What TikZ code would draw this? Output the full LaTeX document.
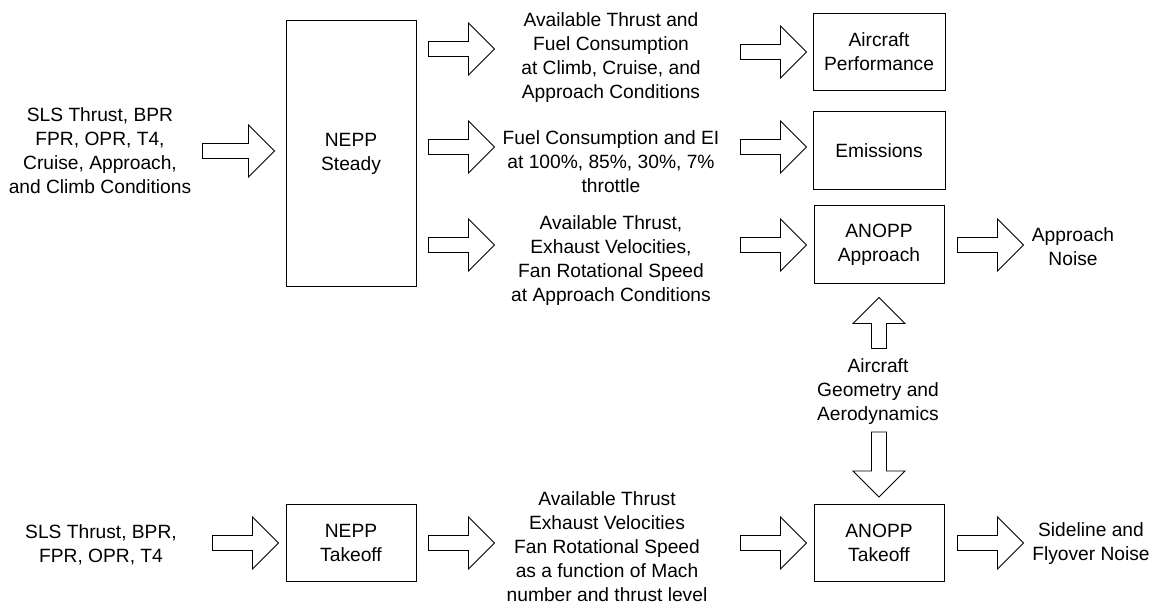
\documentclass[tikz,border=0pt]{standalone}
\usepackage{fontspec}
\setmainfont{Liberation Sans}
\usetikzlibrary{calc}

\tikzset{
  blk/.style={draw, line width=1pt, align=center, minimum width=130pt, minimum height=77pt, inner sep=2pt},
  txt/.style={align=center, inner sep=0pt},
  fat/.style={draw, line width=0.9pt, to path={
    let \p1=(\tikztostart), \p2=(\tikztotarget),
        \n1={atan2(\y2-\y1,\x2-\x1)}, \n2={veclen(\x2-\x1,\y2-\y1)} in
    ([shift={(\p1)},rotate=\n1]0,7.5) -- ([shift={(\p1)},rotate=\n1]{\n2-26},7.5)
    -- ([shift={(\p1)},rotate=\n1]{\n2-26},26) -- ([shift={(\p1)},rotate=\n1]\n2,0)
    -- ([shift={(\p1)},rotate=\n1]{\n2-26},-26) -- ([shift={(\p1)},rotate=\n1]{\n2-26},-7.5)
    -- ([shift={(\p1)},rotate=\n1]0,-7.5) -- cycle}}
}

\begin{document}
\begin{tikzpicture}[x=1pt, y=1pt, font=\fontsize{19.2}{24}\selectfont]
\useasboundingbox (0,0) rectangle (1163,-609);

\node[txt] (in1) at (100,-151) {SLS Thrust, BPR\\FPR, OPR, T4,\\Cruise, Approach,\\and Climb Conditions};
\node[blk, minimum height=266pt] (steady) at (351,-154) {NEPP\\Steady};

\node[txt] (perfdata) at (611,-58) {Available Thrust and\\Fuel Consumption\\at Climb, Cruise, and\\Approach Conditions};
\node[txt] (emisdata) at (611,-162) {Fuel Consumption and EI\\at 100\%, 85\%, 30\%, 7\%\\throttle};
\node[txt] (appdata) at (611,-261) {Available Thrust,\\Exhaust Velocities,\\Fan Rotational Speed\\at Approach Conditions};

\node[blk, minimum width=132pt] (perf) at (879,-52) {Aircraft\\Performance};
\node[blk, minimum width=132pt, minimum height=78pt] (emis) at (879,-151) {Emissions};
\node[blk, minimum height=78pt] (anoppA) at (879,-245) {ANOPP\\Approach};
\node[txt] (appnoise) at (1073,-247) {Approach\\Noise};

\node[txt] (geom) at (878,-392) {Aircraft\\Geometry and\\Aerodynamics};

\node[txt] (in2) at (101,-545) {SLS Thrust, BPR,\\FPR, OPR, T4};
\node[blk] (takeoff) at (351,-543) {NEPP\\Takeoff};
\node[txt] (todata) at (607,-547) {Available Thrust\\Exhaust Velocities\\Fan Rotational Speed\\as a function of Mach\\number and thrust level};
\node[blk] (anoppT) at (879,-543) {ANOPP\\Takeoff};
\node[txt] (tonoise) at (1091,-544) {Sideline and\\Flyover Noise};

\draw[fat] ($(steady.west |- in1)+(-83,0)$) to ($(steady.west |- in1)+(-11,0)$);
\draw[fat] ($(steady.east |- perf)+(12,3)$) to ($(steady.east |- perf)+(78,3)$);
\draw[fat] ($(steady.east |- emis)+(12,4)$) to ($(steady.east |- emis)+(78,4)$);
\draw[fat] ($(steady.east |- anoppA)+(12,0)$) to ($(steady.east |- anoppA)+(78,0)$);

\draw[fat] ($(perf.west)+(-72,0)$) to ($(perf.west)+(-6,0)$);
\draw[fat] ($(emis.west)+(-72,4)$) to ($(emis.west)+(-6,4)$);
\draw[fat] ($(anoppA.west)+(-73,0)$) to ($(anoppA.west)+(-7,0)$);
\draw[fat] ($(anoppA.east)+(13,0)$) to ($(anoppA.east)+(79,0)$);

\draw[fat] ($(anoppA.south)+(0,-64)$) to ($(anoppA.south)+(0,-13)$);
\draw[fat] ($(anoppT.north)+(0,72)$) to ($(anoppT.north)+(0,7)$);

\draw[fat] ($(takeoff.west)+(-73,0)$) to ($(takeoff.west)+(-7,0)$);
\draw[fat] ($(takeoff.east)+(12,0)$) to ($(takeoff.east)+(78,0)$);
\draw[fat] ($(anoppT.west)+(-73,0)$) to ($(anoppT.west)+(-7,0)$);
\draw[fat] ($(anoppT.east)+(13,0)$) to ($(anoppT.east)+(79,0)$);
\end{tikzpicture}
\end{document}
